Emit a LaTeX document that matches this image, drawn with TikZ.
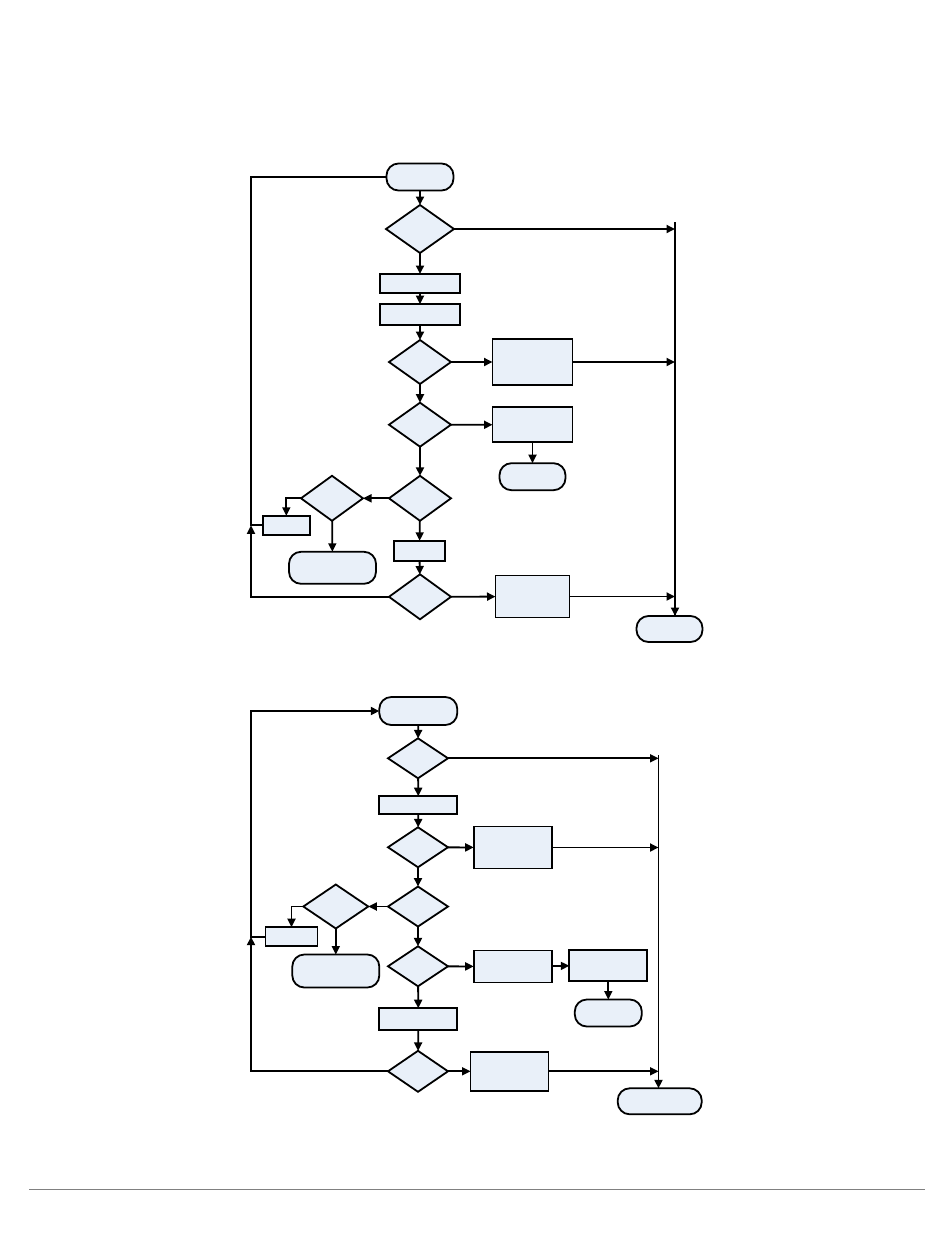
\documentclass[tikz,border=0pt]{standalone}
\usetikzlibrary{shapes.geometric,arrows.meta}
\definecolor{boxfill}{RGB}{233,240,249}
\definecolor{rulegray}{RGB}{128,128,128}
\tikzset{
  base/.style={draw=black, fill=boxfill, line width=1.8pt, inner sep=0pt, outer sep=0pt},
  procbox/.style={base, rectangle},
  decide/.style={base, diamond},
  term/.style={base, rectangle, rounded corners=12pt},
  flow/.style={line width=1.8pt, -{Triangle[length=8.5pt,width=8pt]}},
  plain/.style={line width=1.8pt},
}
\newcommand{\bx}[5]{\node[#1, minimum width=#4pt, minimum height=#5pt] (#2) at #3 {};}
\begin{document}
\begin{tikzpicture}[x=1pt,y=-1pt]
\useasboundingbox (0,0) rectangle (950,1248);
% ---------- top diagram ----------
\bx{term}{T1}{(420,177)}{67}{27}
\bx{decide}{D1}{(420,229)}{68}{48}
\bx{procbox}{R1}{(420,283.5)}{80}{19}
\bx{procbox}{R2}{(420,314.7)}{80}{21}
\bx{decide}{D2}{(420,362)}{62}{44}
\bx{procbox}{R3}{(532.5,362)}{80}{46}
\bx{decide}{D3}{(420,424.7)}{62}{44}
\bx{procbox}{R4}{(532.5,424.8)}{80}{35}
\bx{term}{T2}{(532.5,476.7)}{66}{27}
\bx{decide}{D4}{(420,498.3)}{62}{45}
\bx{decide}{D5}{(332,498.3)}{62}{45}
\bx{procbox}{R5}{(286.3,525.3)}{47}{19}
\bx{term}{T3}{(332.5,567.8)}{87}{32}
\bx{procbox}{R6}{(419.5,550.8)}{51}{20}
\bx{decide}{D6}{(420,596.8)}{62}{45}
\bx{procbox}{R7}{(532.5,596.5)}{74}{42}
\bx{term}{T4}{(669.5,629)}{66}{26}
\coordinate (c1) at (675,222);
\coordinate (c2) at (675,616);
\coordinate (l1) at (251,525.3);
\coordinate (l2) at (251,177);
\coordinate (l3) at (251,596.8);
\draw[plain] (c1) -- (c2);
\draw[flow] (c2 |- T4.north) ++(0,-14) -- (c2 |- T4.north);
\draw[flow] (T1) -- (D1);
\draw[flow] (D1.east) -- (D1.east -| c1);
\draw[flow] (D1) -- (R1);
\draw[flow] (R1) -- (R2);
\draw[flow] (R2) -- (D2);
\draw[flow] (D2) -- (R3);
\draw[flow] (R3.east) -- (R3.east -| c1);
\draw[flow] (D2) -- (D3);
\draw[flow] (D3) -- (R4);
\draw[flow] (R4) -- (T2);
\draw[flow] (D3) -- (D4);
\draw[flow] (D4) -- (D5);
\draw[flow] (D5.west) -| (R5.north);
\draw[flow] (D5) -- (T3);
\draw[flow] (D4) -- (R6);
\draw[flow] (R6) -- (D6);
\draw[flow] (D6) -- (R7);
\draw[flow] (R7.east) -- (R7.east -| c2);
\draw[flow] (D6.west) -- (l3) -- (l1);
\draw[plain] (R5.west) -- (l1) -- (l2) -- (T1.west);
% ---------- bottom diagram ----------
\bx{term}{T5}{(418.3,711)}{78}{28}
\bx{decide}{D7}{(418,758.3)}{60}{40}
\bx{procbox}{R8}{(418.3,805.2)}{78}{18}
\bx{decide}{D8}{(418,847.3)}{60}{40}
\bx{procbox}{R9}{(512.7,847.5)}{78}{42}
\bx{decide}{D9}{(418,906.5)}{60}{40}
\bx{decide}{D10}{(335.8,906.5)}{65}{44}
\bx{procbox}{R10}{(291.5,936.7)}{52}{19}
\bx{term}{T6}{(335.8,971)}{87}{33}
\bx{decide}{D11}{(418,966.3)}{60}{40}
\bx{procbox}{R11}{(512.7,966.5)}{78}{32}
\bx{procbox}{R12}{(608.3,965.3)}{78}{31}
\bx{term}{T7}{(608.3,1013)}{67}{27}
\bx{procbox}{R13}{(418.3,1019.2)}{78}{22}
\bx{decide}{D12}{(418,1071.3)}{60}{41}
\bx{procbox}{R14}{(509.5,1071.3)}{78}{39}
\bx{term}{T8}{(659.7,1101.3)}{84}{26}
\coordinate (e1) at (658.5,755);
\coordinate (e2) at (658.5,1088.3);
\coordinate (m1) at (251,936.7);
\coordinate (m2) at (251,711);
\coordinate (m3) at (251,1071.3);
\draw[plain] (e1) -- (e2);
\draw[flow] (e2) ++(0,-14) -- (e2);
\draw[flow] (T5) -- (D7);
\draw[flow] (D7.east) -- (D7.east -| e1);
\draw[flow] (D7) -- (R8);
\draw[flow] (R8) -- (D8);
\draw[flow] (D8) -- (R9);
\draw[flow] (R9.east) -- (R9.east -| e1);
\draw[flow] (D8) -- (D9);
\draw[flow] (D9) -- (D10);
\draw[flow] (D10.west) -| (R10.north);
\draw[flow] (D10) -- (T6);
\draw[flow] (D9) -- (D11);
\draw[flow] (D11) -- (R11);
\draw[flow] (R11) -- (R12);
\draw[flow] (R12) -- (T7);
\draw[flow] (D11) -- (R13);
\draw[flow] (R13) -- (D12);
\draw[flow] (D12) -- (R14);
\draw[flow] (R14.east) -- (R14.east -| e2);
\draw[flow] (D12.west) -- (m3) -- (m1);
\draw[flow] (R10.west) -- (m1) -- (m2) -- (T5.west);
% ---------- footer rule ----------
\coordinate (f1) at (29,1189.3);
\coordinate (f2) at (925,1189.3);
\draw[draw=rulegray, line width=1.2pt] (f1) -- (f2);
\end{tikzpicture}
\end{document}
